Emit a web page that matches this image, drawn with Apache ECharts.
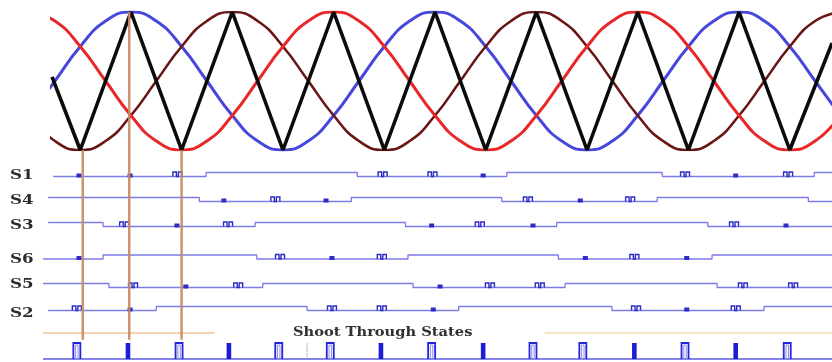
<!DOCTYPE html>
<html><head><meta charset="utf-8">
<script src="https://cdn.jsdelivr.net/npm/echarts@6/dist/echarts.min.js"></script>
<style>html,body{margin:0;padding:0;background:#fff}#c{width:832px;height:362px}</style>
</head><body><div id="c"></div>
<script>
// ---------- DATA (x in electrical degrees of the reference wave) ----------
const theta = [-30,0,30,60,90,120,150,180,210,240,270,300,330,360,390,420,450,480,510,540,570,600,630,660,690,720,750,780,810,840,870,900,930];
const refBlue   = [-0.5,0,0.5,0.87,1,0.87,0.5,0,-0.5,-0.87,-1,-0.87,-0.5,0,0.5,0.87,1,0.87,0.5,0,-0.5,-0.87,-1,-0.87,-0.5,0,0.5,0.87,1,0.87,0.5,0,-0.5];
const refMaroon = [-0.5,-0.87,-1,-0.87,-0.5,0,0.5,0.87,1,0.87,0.5,0,-0.5,-0.87,-1,-0.87,-0.5,0,0.5,0.87,1,0.87,0.5,0,-0.5,-0.87,-1,-0.87,-0.5,0,0.5,0.87,1];
const refRed    = [1,0.87,0.5,0,-0.5,-0.87,-1,-0.87,-0.5,0,0.5,0.87,1,0.87,0.5,0,-0.5,-0.87,-1,-0.87,-0.5,0,0.5,0.87,1,0.87,0.5,0,-0.5,-0.87,-1,-0.87,-0.5];
const carrierT = [-3.4,30,90,150,210,270,330,390,450,510,570,630,690,750,810,870,920];
const carrierV = [0.06,-1,1,-1,1,-1,1,-1,1,-1,1,-1,1,-1,1,-1,0.55];

// gate signals: edges [t, level after edge], dots (filled pulses), pulses (double pulses)
const gateNames = ['S1','S4','S3','S6','S5','S2'];
const s1Edges = [[-2,0],[179,1],[358,0],[535,1],[719,0],[899,1],[920,1]];
const s1Dots = [28.5,89,507,806];
const s1Pulses = [145,388,447,746,868];
const s4Edges = [[-8,1],[171,0],[351,1],[529,0],[713,1],[892,0],[920,0]];
const s4Dots = [200,321,622];
const s4Pulses = [261,560,681];
const s3Edges = [[-8,1],[57,0],[237,1],[415,0],[594,1],[773,0],[920,0]];
const s3Dots = [144.5,446,566,865.5];
const s3Pulses = [82,205,503,804];
const s6Edges = [[-14,0],[57,1],[239,0],[418,1],[596,0],[778,1],[920,1]];
const s6Dots = [28.5,328,628,748];
const s6Pulses = [266.5,387,686];
const s5Edges = [[-14,1],[64,0],[246,1],[424,0],[604,1],[784,0],[920,0]];
const s5Dots = [155,456];
const s5Pulses = [92.5,217,515,574,814.5,874];
const s2Edges = [[-8,0],[120,1],[298.5,0],[478,1],[659.5,0],[839.5,1],[920,1]];
const s2Dots = [89,448,748];
const s2Pulses = [26,328,387,688,806];

// shoot-through states row
const stHollow = [26,147,265,326,446,566,625,746,867];
const stFilled = [86.5,206,386,507,686,806];
const stSpan = [-14,920];
const stDivider = 298.5;
const stGuideLeft = [-14,189];
const stGuideRight = [580,920];
const stGuideLevel = 1.625;
const stTitle = 'Shoot Through States';

// vertical markers from carrier extremes down to shoot-through row
const markerT = [33,88,150];
const markerFrom = [-1,1,-1];

// ---------- LAYOUT ----------
const rowTops = [172.5,197.5,222.5,255,283.5,306.5];
const labelY = [175.5,201,226,259.5,284.5,314];
const gateColor = '#7c7ce6';
const pulseColor = '#2c2cc4';

const rows = [
  {edges:s1Edges,dots:s1Dots,pulses:s1Pulses},
  {edges:s4Edges,dots:s4Dots,pulses:s4Pulses},
  {edges:s3Edges,dots:s3Dots,pulses:s3Pulses},
  {edges:s6Edges,dots:s6Dots,pulses:s6Pulses},
  {edges:s5Edges,dots:s5Dots,pulses:s5Pulses},
  {edges:s2Edges,dots:s2Dots,pulses:s2Pulses}
];

function stepPoints(edges){
  const pts = [edges[0].slice()];
  for (let i=1;i<edges.length;i++){
    pts.push([edges[i][0], edges[i-1][1]]);
    pts.push([edges[i][0], edges[i][1]]);
  }
  return pts;
}

const grids = [{left:52,right:0,top:12,height:138}];
rowTops.forEach(t=>grids.push({left:0,right:0,top:t,height:4}));
grids.push({left:0,right:0,top:331,height:28});
const ST = grids.length-1;

const xAxes = grids.map((g,i)=>({gridIndex:i,type:'value',min:i===0?-3.44:-65,max:920,show:false}));
const yAxes = grids.map((g,i)=>{
  if (i===0) return {gridIndex:i,type:'value',min:-1,max:1,show:false};
  if (i===ST) return {gridIndex:i,type:'value',min:0,max:1.75,show:false};
  return {gridIndex:i,type:'value',min:0,max:1,show:false};
});

const series = [];
function refLine(vals,color,w,z){
  series.push({type:'line',xAxisIndex:0,yAxisIndex:0,data:theta.map((t,i)=>[t,vals[i]]),
    smooth:true,symbol:'none',silent:true,z:z,lineStyle:{color:color,width:w}});
}
refLine(refBlue,'#4747dc',3,2);
refLine(refMaroon,'#6a1616',2.6,2);
refLine(refRed,'#e82828',3,3);
series.push({type:'line',xAxisIndex:0,yAxisIndex:0,data:carrierT.map((t,i)=>[t,carrierV[i]]),
  symbol:'none',silent:true,z:5,lineStyle:{color:'#0b0b0b',width:3.6}});

rows.forEach((r,k)=>{
  const gi = k+1;
  series.push({type:'line',xAxisIndex:gi,yAxisIndex:gi,data:stepPoints(r.edges),symbol:'none',
    clip:false,silent:true,z:2,lineStyle:{color:gateColor,width:1.3}});
  series.push({type:'custom',xAxisIndex:gi,yAxisIndex:gi,data:r.dots.map(t=>[t,0]),clip:false,silent:true,z:3,
    renderItem:(p,api)=>{
      const b = api.coord([api.value(0),0]);
      return {type:'rect',shape:{x:b[0]-2.5,y:b[1]-3,width:5,height:4},style:{fill:pulseColor}};
    }});
  series.push({type:'custom',xAxisIndex:gi,yAxisIndex:gi,data:r.pulses.map(t=>[t,0]),clip:false,silent:true,z:3,
    renderItem:(p,api)=>{
      const b = api.coord([api.value(0),0]);
      const h = api.coord([api.value(0),1]);
      const x=b[0], y0=b[1], y1=h[1]-0.5;
      return {type:'polyline',shape:{points:[[x-4.5,y0],[x-4.5,y1],[x-1,y1],[x-1,y0],[x+1,y0],[x+1,y1],[x+4.5,y1],[x+4.5,y0]]},
        style:{stroke:pulseColor,lineWidth:1.4,fill:null}};
    }});
});

// shoot-through row
series.push({type:'line',xAxisIndex:ST,yAxisIndex:ST,data:stSpan.map(t=>[t,0]),symbol:'none',clip:false,silent:true,
  lineStyle:{color:'#5a5ae0',width:1.6},z:2});
series.push({type:'line',xAxisIndex:ST,yAxisIndex:ST,data:stGuideLeft.map(t=>[t,stGuideLevel]),symbol:'none',clip:false,silent:true,
  lineStyle:{color:'#f3c596',width:1.6},z:1});
series.push({type:'line',xAxisIndex:ST,yAxisIndex:ST,data:stGuideRight.map(t=>[t,stGuideLevel]),symbol:'none',clip:false,silent:true,
  lineStyle:{color:'#f3dcae',width:1.6},z:1});
series.push({type:'line',xAxisIndex:ST,yAxisIndex:ST,data:[[stDivider,0],[stDivider,1]],symbol:'none',clip:false,silent:true,
  lineStyle:{color:'#9a9a9a',width:1.2,type:'dotted'},z:1});
series.push({type:'custom',xAxisIndex:ST,yAxisIndex:ST,data:stHollow.map(t=>[t,0]),clip:false,silent:true,z:3,
  renderItem:(p,api)=>{
    const b = api.coord([api.value(0),0]);
    const h = api.coord([api.value(0),1]);
    const x=b[0];
    return {type:'group',children:[
      {type:'polyline',shape:{points:[[x-3.5,b[1]],[x-3.5,h[1]],[x+3.5,h[1]],[x+3.5,b[1]]]},style:{stroke:'#2424dc',lineWidth:1.8,fill:null}},
      {type:'polyline',shape:{points:[[x-1.2,b[1]],[x-1.2,h[1]+2],[x+1.2,h[1]+2],[x+1.2,b[1]]]},style:{stroke:'#8a8aee',lineWidth:1,fill:null}}
    ]};
  }});
series.push({type:'custom',xAxisIndex:ST,yAxisIndex:ST,data:stFilled.map(t=>[t,0]),clip:false,silent:true,z:3,
  renderItem:(p,api)=>{
    const b = api.coord([api.value(0),0]);
    const h = api.coord([api.value(0),1]);
    return {type:'rect',shape:{x:b[0]-2.3,y:h[1],width:4.6,height:b[1]-h[1]},style:{fill:'#1c1cd4'}};
  }});

const graphic = gateNames.map((n,i)=>({type:'text',id:'lbl'+i,x:10,y:labelY[i],scaleX:1.28,z:10,
  style:{text:n,font:'bold 13px "DejaVu Serif"',fill:'#2c2c2c',textVerticalAlign:'middle',verticalAlign:'middle',textAlign:'left',align:'left'}}));
graphic.push({type:'text',id:'sttitle',x:293,y:333,scaleX:1.22,z:10,
  style:{text:stTitle,font:'bold 12px "DejaVu Serif"',fill:'#303030',textVerticalAlign:'middle',verticalAlign:'middle',textAlign:'left',align:'left'}});

const chart = echarts.init(document.getElementById('c'));
chart.setOption({animation:false,backgroundColor:'#ffffff',grid:grids,xAxis:xAxes,yAxis:yAxes,series:series,graphic:graphic});

const markers = markerT.map((t,i)=>{
  const p0 = chart.convertToPixel({gridIndex:0},[t,markerFrom[i]]);
  const p1 = chart.convertToPixel({gridIndex:ST},[t,1.2]);
  return {type:'line',id:'mk'+i,z:20,shape:{x1:p0[0],y1:p0[1],x2:p1[0],y2:p1[1]},
    style:{stroke:'#c48a5e',lineWidth:2.5,opacity:0.9}};
});
chart.setOption({graphic:markers});
</script></body></html>
